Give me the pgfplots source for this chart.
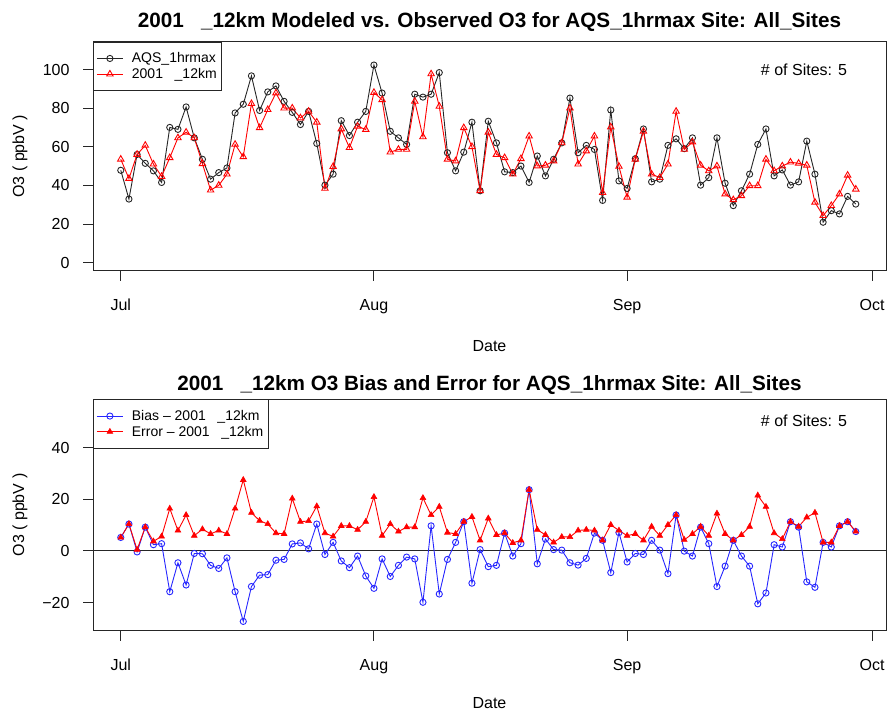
\documentclass[border=0pt]{standalone}
\usepackage{pgfplots}
\pgfplotsset{compat=1.18}
\usepackage{fontspec}
\setmainfont{Liberation Sans}

\pgfplotstableread{
d obs mod
0 47.8 53.5
1 32.9 43.5
2 56.0 56.0
3 51.4 60.7
4 47.5 51.0
5 41.5 44.6
6 70.0 54.3
7 69.0 64.6
8 80.6 67.5
9 64.6 64.6
10 53.5 51.2
11 43.2 37.5
12 46.6 40.0
13 49.0 45.8
14 77.5 61.2
15 82.0 54.8
16 96.7 82.3
17 78.8 69.8
18 88.4 79.2
19 91.5 87.8
20 83.5 80.0
21 77.8 80.0
22 71.5 74.9
23 78.3 78.3
24 61.7 72.7
25 40.1 38.4
26 45.8 49.7
27 73.5 69.2
28 65.8 59.5
29 72.7 70.6
30 78.3 68.9
31 102.3 88.1
32 87.8 84.3
33 68.0 57.2
34 64.6 58.6
35 61.2 58.6
36 87.2 83.5
37 85.7 65.1
38 87.2 97.7
39 98.4 80.9
40 56.9 53.5
41 47.5 52.6
42 57.2 69.8
43 72.7 60.0
44 37.2 37.2
45 73.2 67.5
46 62.0 56.0
47 47.0 54.3
48 46.6 45.8
49 50.0 53.8
50 41.5 65.5
51 55.2 50.0
52 44.9 50.4
53 53.5 52.6
54 62.0 62.0
55 85.2 80.0
56 56.9 51.0
57 60.7 57.8
58 58.6 65.5
59 32.2 36.2
60 79.0 70.2
61 42.3 49.8
62 38.4 33.8
63 53.8 53.5
64 69.2 68.0
65 41.8 45.8
66 43.2 44.0
67 60.7 51.0
68 64.1 78.3
69 59.0 58.6
70 64.6 62.4
71 40.1 50.4
72 44.0 47.5
73 64.6 50.0
74 41.1 35.5
75 29.5 32.5
76 37.2 34.6
77 45.8 39.8
78 61.2 39.8
79 69.2 53.5
80 44.9 47.5
81 48.0 50.0
82 40.1 52.0
83 41.8 51.4
84 62.9 50.4
85 45.8 31.2
86 20.9 24.3
87 26.9 29.5
88 25.2 35.5
89 34.3 45.2
90 30.3 38.0
}\ozone

\pgfplotstableread{
d bias err
0 5.2 5.2
1 10.4 10.4
2 -0.4 0.5
3 9.2 9.2
4 2.4 3.7
5 2.8 5.6
6 -15.8 16.4
7 -4.6 7.9
8 -13.2 13.9
9 -1.0 5.9
10 -1.1 8.4
11 -5.6 6.6
12 -6.8 7.9
13 -2.7 6.6
14 -15.8 16.4
15 -27.3 27.5
16 -13.8 14.8
17 -9.4 11.7
18 -9.2 10.4
19 -3.6 6.9
20 -3.3 6.6
21 2.7 20.3
22 3.1 11.3
23 0.8 11.6
24 10.4 17.3
25 -1.4 6.9
26 3.3 5.6
27 -3.9 9.7
28 -6.5 9.7
29 -2.0 8.2
30 -9.7 11.3
31 -14.5 20.9
32 -3.1 5.9
33 -9.9 10.4
34 -5.6 7.5
35 -2.4 9.2
36 -3.1 9.2
37 -19.9 20.5
38 9.7 13.9
39 -16.7 17.1
40 -3.3 7.1
41 3.3 6.6
42 11.3 11.3
43 -12.5 13.2
44 0.5 4.1
45 -6.1 12.6
46 -5.6 6.2
47 6.9 6.9
48 -2.0 3.1
49 2.8 4.1
50 23.7 23.7
51 -5.0 8.2
52 4.6 6.2
53 0.5 3.3
54 0.3 5.4
55 -4.6 5.4
56 -5.5 7.9
57 -2.9 8.2
58 6.9 7.9
59 4.1 4.1
60 -8.4 10.1
61 7.1 7.9
62 -4.3 5.9
63 -1.0 6.6
64 -1.4 4.1
65 4.1 9.4
66 0.3 5.9
67 -8.8 10.1
68 13.9 13.9
69 -0.1 4.3
70 -2.0 6.6
71 9.2 9.4
72 2.8 5.9
73 -13.8 14.5
74 -5.9 6.6
75 4.1 4.1
76 -2.0 6.2
77 -5.9 9.4
78 -20.5 21.5
79 -16.3 17.1
80 2.4 6.9
81 1.5 4.6
82 11.3 11.3
83 9.2 9.4
84 -12.0 13.0
85 -14.1 14.8
86 3.3 3.3
87 1.5 3.3
88 9.7 9.7
89 11.3 11.3
90 7.5 7.5
}\bias

\pgfplotsset{
  rpanel/.style={
    scale only axis, width=793pt,
    xmin=-3.4, xmax=93.7,
    axis line style={line width=0.9pt, black!85},
    tick pos=left, tick align=outside, major tick length=10pt,
    tick style={line width=0.9pt, black!85},
    xtick={0,31,62,92}, xticklabels={Jul,Aug,Sep,Oct},
    ticklabel style={font=\fontsize{16}{19}\selectfont},
    xticklabel style={anchor=base, yshift=-30pt},
    yticklabel style={anchor=east, xshift=-10pt},
    /pgf/number format/assume math mode=true,
    clip=false,
    xlabel={Date},
    xlabel style={font=\fontsize{16}{19}\selectfont, anchor=base},
    ylabel={O3 ( ppbV )},
    ylabel style={font=\fontsize{16}{19}\selectfont, anchor=center, at={(axis description cs:-0.092,0.5)}},
    title style={font=\bfseries\fontsize{20.7}{24}\selectfont, anchor=base},
    legend cell align=left,
    legend image code/.code={\path[draw=none,fill=none] (0pt,-1pt) rectangle (33pt,1pt);\draw[mark repeat=2,mark phase=2,##1] plot coordinates {(0pt,0pt) (13pt,0pt) (26pt,0pt)};},
    legend style={at={(0,1)}, anchor=north west, draw=black!85, line width=0.9pt,
      font=\fontsize{14}{16}\selectfont, inner xsep=3pt, inner ysep=8.5pt, row sep=0pt},
  },
  obsline/.style={black!85, line width=0.9pt, mark=o, mark size=3.1pt, mark options={line width=0.9pt}},
  modline/.style={red, line width=0.9pt, mark=triangle, mark size=3.7pt, mark options={line width=0.9pt}},
  biasline/.style={blue!85!white, line width=0.9pt, mark=o, mark size=3.1pt, mark options={line width=0.9pt}},
  errline/.style={red, line width=0.9pt, mark=triangle*, mark size=3.3pt, mark options={line width=0.6pt}},
}

\begin{document}
\begin{tikzpicture}[x=1pt,y=1pt]
\path[use as bounding box] (0,0) rectangle (887,712);

\begin{axis}[rpanel, at={(93pt,441.3pt)}, anchor=south west, height=229pt,
  ymin=-4.2, ymax=114.4, ytick={0,20,40,60,80,100},
  title={2001\ \ \ \_12km Modeled vs. Observed O3 for AQS\_1hrmax Site: All\_Sites},
  title style={at={(axis description cs:0.5,1.037)}},
  xlabel style={at={(axis description cs:0.5,-0.355)}},
]
\addplot[obsline] table[x=d, y=obs] {\ozone};
\addlegendentry{AQS\_1hrmax}
\addplot[modline] table[x=d, y=mod] {\ozone};
\addlegendentry{2001\ \ \ \_12km}
\node[anchor=north east, inner sep=0pt, font=\fontsize{16}{19}\selectfont] at (axis description cs:0.951,0.905) {\# of Sites: 5};
\end{axis}

\begin{axis}[rpanel, at={(93pt,81.3pt)}, anchor=south west, height=231.4pt,
  ymin=-30.9, ymax=58.7, ytick={-20,0,20,40}, yticklabels={−20,0,20,40},
  title={2001\ \ \ \_12km O3 Bias and Error for AQS\_1hrmax Site: All\_Sites},
  title style={at={(axis description cs:0.5,1.012)}},
  xlabel style={at={(axis description cs:0.5,-0.337)}},
]
\addplot[black!85, line width=0.9pt, no marks, forget plot] coordinates {(-3.4,0) (93.7,0)};
\addplot[biasline] table[x=d, y=bias] {\bias};
\addlegendentry{Bias – 2001\ \ \ \_12km}
\addplot[errline] table[x=d, y=err] {\bias};
\addlegendentry{Error – 2001\ \ \ \_12km}
\node[anchor=north east, inner sep=0pt, font=\fontsize{16}{19}\selectfont] at (axis description cs:0.951,0.932) {\# of Sites: 5};
\end{axis}
\end{tikzpicture}
\end{document}
